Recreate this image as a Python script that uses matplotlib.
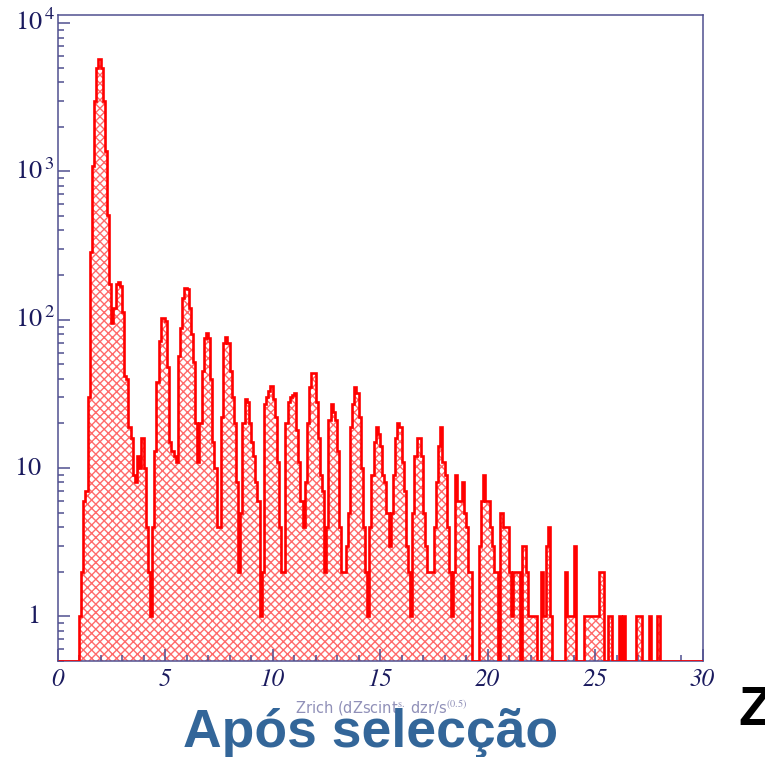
import numpy as np
import matplotlib
matplotlib.use("Agg")
from matplotlib import pyplot as plt
from matplotlib.ticker import LogLocator, MultipleLocator, NullFormatter
from matplotlib.transforms import blended_transform_factory

# histogram: 300 bins of width 0.1 between 0 and 30
x_lo, x_hi, n_bins = 0.0, 30.0, 300
counts = [
    0, 0, 0, 0, 0, 0, 0, 0, 0, 0,
    1, 2, 6, 7, 30, 285, 1090, 3000, 5000, 5700,
    5000, 3000, 1370, 510, 173, 95, 120, 175, 180, 170,
    112, 42, 40, 19, 16, 9, 8, 12, 10, 16,
    10, 4, 2, 1, 4, 13, 38, 72, 103, 103,
    98, 48, 15, 13, 12, 11, 57, 88, 140, 165,
    160, 120, 80, 52, 20, 11, 20, 45, 75, 82,
    75, 40, 15, 10, 4, 4, 22, 70, 77, 70,
    45, 30, 20, 8, 2, 5, 20, 29, 28, 20,
    15, 12, 8, 6, 1, 2, 27, 30, 33, 36,
    29, 22, 11, 4, 2, 2, 20, 28, 30, 31,
    32, 18, 11, 6, 4, 8, 20, 35, 44, 44,
    28, 16, 9, 7, 2, 4, 21, 27, 24, 21,
    13, 4, 2, 2, 3, 5, 19, 27, 35, 32,
    22, 10, 4, 2, 1, 4, 9, 15, 19, 17,
    14, 9, 8, 5, 3, 5, 9, 16, 20, 19,
    11, 7, 3, 2, 1, 5, 12, 16, 16, 12,
    5, 3, 2, 2, 2, 4, 8, 14, 19, 11,
    9, 4, 2, 1, 2, 9, 6, 6, 8, 5,
    4, 2, 2, 0, 0, 0, 3, 6, 9, 6,
    6, 4, 3, 2, 2, 0, 5, 4, 4, 4,
    2, 1, 2, 2, 2, 0, 3, 3, 2, 1,
    1, 1, 1, 0, 0, 2, 1, 3, 4, 1,
    0, 0, 0, 0, 0, 0, 2, 1, 1, 1,
    3, 0, 0, 0, 0, 1, 1, 1, 1, 1,
    1, 1, 2, 2, 0, 0, 1, 1, 0, 0,
    0, 1, 0, 1, 0, 0, 0, 0, 0, 1,
    1, 1, 0, 0, 0, 1, 0, 0, 0, 1,
    0, 0, 0, 0, 0, 0, 0, 0, 0, 0,
    0, 0, 0, 0, 0, 0, 0, 0, 0, 0,
]

x_ticks = [0, 5, 10, 15, 20, 25, 30]
x_labels = ["0", "5", "10", "15", "20", "25", "30"]
y_ticks = [1, 10, 100, 1000, 10000]
y_labels = [r"$\mathit{1}$", r"$\mathit{10}$", r"$\mathit{10}^{\,\mathit{2}}$",
            r"$\mathit{10}^{\,\mathit{3}}$", r"$\mathit{10}^{\,\mathit{4}}$"]
y_label_left = [27, 14, 15, 15, 15]   # px, left edge of each label
axis_title = r"Zrich (dZscint$^{\mathrm{s.}}$ dzr/s$^{\mathrm{(0.5)}}$"
caption = "Após selecção"

y_min, y_max = 0.5, 11350

plt.rcParams["mathtext.fontset"] = "stix"
W, H = 765, 757
fig = plt.figure(figsize=(W / 100, H / 100), dpi=100)
ax_l, ax_r, ax_t, ax_b = 57.5, 702.5, 15, 661
ax = fig.add_axes([ax_l / W, 1 - ax_b / H, (ax_r - ax_l) / W, (ax_b - ax_t) / H])

edges = np.linspace(x_lo, x_hi, n_bins + 1)
vals = np.array(counts, dtype=float)
vals = np.where(vals > 0, vals, y_min)

ax.stairs(vals, edges, baseline=y_min, fill=True, facecolor="white",
          edgecolor="#ff6a6a", hatch="xxxx", linewidth=0, zorder=1)
ax.stairs(vals, edges, baseline=y_min, color="#ff0000", linewidth=1.9, zorder=3)

ax.set_yscale("log")
ax.set_xlim(x_lo, x_hi)
ax.set_ylim(y_min, y_max)

frame = "#50508f"
navy = "#1a1a5e"
for s in ax.spines.values():
    s.set_color(frame)
    s.set_linewidth(1.1)

ax.set_xticks(x_ticks)
ax.set_xticklabels(x_labels, fontfamily="STIXGeneral", style="italic",
                   fontsize=18, color=navy)
ax.xaxis.set_minor_locator(MultipleLocator(1))
ax.yaxis.set_major_locator(LogLocator(base=10, numticks=10))
ax.yaxis.set_minor_locator(LogLocator(base=10, subs=np.arange(2, 10), numticks=20))
ax.yaxis.set_major_formatter(NullFormatter())
ax.yaxis.set_minor_formatter(NullFormatter())
ax.tick_params(axis="both", which="both", direction="in", color=frame, width=1.1)
ax.tick_params(axis="x", which="major", length=8.5, pad=6)
ax.tick_params(axis="x", which="minor", length=4.5)
ax.tick_params(axis="y", which="major", length=8.5)
ax.tick_params(axis="y", which="minor", length=4.5)

tr = blended_transform_factory(ax.transAxes, ax.transData)
for v, lab, px in zip(y_ticks, y_labels, y_label_left):
    ax.text((px - ax_l) / (ax_r - ax_l), v, lab, transform=tr, ha="left",
            va="center", fontsize=19, color=navy)

fig.text(381 / W, 1 - 708 / H, axis_title, ha="center", va="center",
         fontsize=10.5, color="#9090b8")
fig.text(371 / W, 1 - 747 / H, caption, ha="center", va="baseline",
         fontsize=38.5, fontweight="bold", family="Liberation Sans", color="#336699")
fig.text(738 / W, 1 - 725 / H, "Z", ha="left", va="baseline",
         fontsize=40, fontweight="bold", family="Liberation Sans", color="black")

fig.savefig("out.png", dpi=100)
